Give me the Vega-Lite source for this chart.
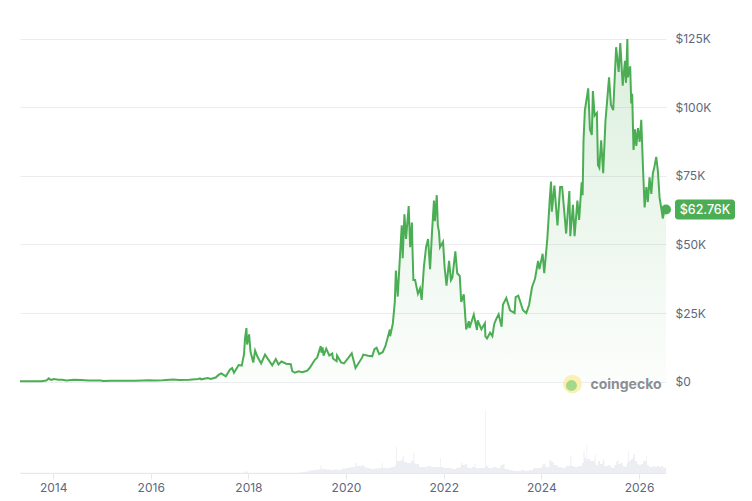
{
  "$schema": "https://vega.github.io/schema/vega-lite/v6.json",
  "width": 646,
  "height": 453,
  "autosize": {"type": "none"},
  "padding": {"left": 20, "top": 20, "right": 86, "bottom": 28},
  "background": "white",
  "config": {"view": {"stroke": null}, "font": "Inter"},
  "datasets": {
    "price": [
      {"d":"2013-04-28","p":135},{"d":"2013-06-20","p":105},{"d":"2013-08-20","p":110},{"d":"2013-10-05","p":125},
      {"d":"2013-11-10","p":330},{"d":"2013-11-30","p":1130},{"d":"2013-12-08","p":800},{"d":"2013-12-18","p":550},
      {"d":"2014-01-05","p":900},{"d":"2014-02-10","p":650},{"d":"2014-03-10","p":630},{"d":"2014-04-10","p":400},
      {"d":"2014-06-05","p":650},{"d":"2014-08-01","p":590},{"d":"2014-09-20","p":400},{"d":"2014-11-10","p":350},
      {"d":"2014-12-20","p":320},{"d":"2015-01-14","p":180},{"d":"2015-03-10","p":280},{"d":"2015-05-01","p":235},
      {"d":"2015-07-10","p":290},{"d":"2015-09-01","p":230},{"d":"2015-11-04","p":400},{"d":"2015-12-15","p":450},
      {"d":"2016-02-01","p":375},{"d":"2016-04-01","p":420},{"d":"2016-06-17","p":740},{"d":"2016-08-01","p":580},
      {"d":"2016-10-15","p":640},{"d":"2016-12-20","p":900},{"d":"2017-01-04","p":1120},{"d":"2017-01-12","p":800},
      {"d":"2017-03-03","p":1280},{"d":"2017-03-25","p":950},{"d":"2017-05-01","p":1450},{"d":"2017-05-25","p":2500},
      {"d":"2017-06-12","p":2950},{"d":"2017-07-16","p":1900},{"d":"2017-08-15","p":4300},{"d":"2017-09-01","p":4900},
      {"d":"2017-09-15","p":3200},{"d":"2017-10-20","p":6000},{"d":"2017-11-12","p":5800},{"d":"2017-11-29","p":10000},
      {"d":"2017-12-07","p":16000},{"d":"2017-12-17","p":19500},{"d":"2017-12-22","p":13500},{"d":"2018-01-06","p":17200},
      {"d":"2018-01-16","p":11000},{"d":"2018-02-06","p":6900},{"d":"2018-02-20","p":11300},{"d":"2018-03-10","p":9000},
      {"d":"2018-04-06","p":6600},{"d":"2018-05-05","p":9800},{"d":"2018-06-28","p":5900},{"d":"2018-07-25","p":8200},
      {"d":"2018-08-14","p":6200},{"d":"2018-09-05","p":7300},{"d":"2018-10-10","p":6500},{"d":"2018-11-14","p":6300},
      {"d":"2018-11-25","p":3800},{"d":"2018-12-15","p":3200},{"d":"2019-01-10","p":3700},{"d":"2019-02-07","p":3400},
      {"d":"2019-03-15","p":3900},{"d":"2019-04-05","p":5000},{"d":"2019-05-14","p":8000},{"d":"2019-05-30","p":8700},
      {"d":"2019-06-26","p":12900},{"d":"2019-07-02","p":10500},{"d":"2019-07-10","p":12500},{"d":"2019-07-17","p":9400},
      {"d":"2019-08-06","p":12000},{"d":"2019-08-29","p":9500},{"d":"2019-09-20","p":10200},{"d":"2019-09-25","p":8400},
      {"d":"2019-10-23","p":7400},{"d":"2019-10-26","p":9500},{"d":"2019-11-25","p":7000},{"d":"2019-12-17","p":6600},
      {"d":"2020-01-20","p":8700},{"d":"2020-02-13","p":10300},{"d":"2020-03-12","p":4900},{"d":"2020-04-30","p":8700},
      {"d":"2020-05-09","p":9800},{"d":"2020-06-15","p":9400},{"d":"2020-07-15","p":9200},{"d":"2020-08-01","p":11800},
      {"d":"2020-08-17","p":12300},{"d":"2020-09-05","p":10000},{"d":"2020-10-01","p":10700},{"d":"2020-10-21","p":12800},
      {"d":"2020-11-24","p":19000},{"d":"2020-11-26","p":16500},{"d":"2020-12-16","p":21000},{"d":"2020-12-31","p":29000},
      {"d":"2021-01-08","p":40500},{"d":"2021-01-22","p":31000},{"d":"2021-02-08","p":46000},{"d":"2021-02-21","p":57000},
      {"d":"2021-02-28","p":45000},{"d":"2021-03-13","p":61000},{"d":"2021-03-25","p":52000},{"d":"2021-04-14","p":64000},
      {"d":"2021-04-25","p":49000},{"d":"2021-05-08","p":58000},{"d":"2021-05-12","p":49000},{"d":"2021-05-19","p":37000},
      {"d":"2021-06-01","p":37000},{"d":"2021-06-22","p":32000},{"d":"2021-07-08","p":34000},{"d":"2021-07-20","p":29800},
      {"d":"2021-08-06","p":42000},{"d":"2021-08-22","p":49000},{"d":"2021-09-06","p":52000},{"d":"2021-09-21","p":41000},
      {"d":"2021-10-06","p":55000},{"d":"2021-10-20","p":66000},{"d":"2021-10-27","p":58500},{"d":"2021-11-10","p":68000},
      {"d":"2021-11-18","p":57000},{"d":"2021-11-27","p":54500},{"d":"2021-12-04","p":49000},{"d":"2021-12-27","p":51000},
      {"d":"2022-01-08","p":41500},{"d":"2022-01-22","p":35000},{"d":"2022-02-10","p":44000},{"d":"2022-02-24","p":37000},
      {"d":"2022-03-07","p":38000},{"d":"2022-03-29","p":47500},{"d":"2022-04-12","p":39500},{"d":"2022-05-01","p":38500},
      {"d":"2022-05-12","p":29000},{"d":"2022-05-31","p":31800},{"d":"2022-06-18","p":19000},{"d":"2022-07-08","p":22000},
      {"d":"2022-07-13","p":19500},{"d":"2022-08-14","p":24400},{"d":"2022-09-07","p":18800},{"d":"2022-09-12","p":22300},
      {"d":"2022-10-10","p":19100},{"d":"2022-11-05","p":21300},{"d":"2022-11-09","p":16500},{"d":"2022-11-21","p":15700},
      {"d":"2022-12-14","p":17800},{"d":"2022-12-31","p":16500},{"d":"2023-01-14","p":21000},{"d":"2023-01-31","p":23000},
      {"d":"2023-02-16","p":24500},{"d":"2023-03-10","p":20000},{"d":"2023-03-20","p":28000},{"d":"2023-04-14","p":30500},
      {"d":"2023-05-12","p":26000},{"d":"2023-06-15","p":25000},{"d":"2023-06-23","p":30800},{"d":"2023-07-13","p":31300},
      {"d":"2023-08-17","p":26000},{"d":"2023-09-11","p":25000},{"d":"2023-10-02","p":28000},{"d":"2023-10-24","p":34500},
      {"d":"2023-11-15","p":37500},{"d":"2023-12-08","p":44000},{"d":"2023-12-18","p":41000},{"d":"2024-01-11","p":46600},
      {"d":"2024-01-23","p":39500},{"d":"2024-02-15","p":52000},{"d":"2024-03-05","p":67000},{"d":"2024-03-14","p":73000},
      {"d":"2024-03-20","p":62000},{"d":"2024-04-08","p":71500},{"d":"2024-05-01","p":57000},{"d":"2024-05-21","p":71000},
      {"d":"2024-06-05","p":71000},{"d":"2024-07-05","p":54000},{"d":"2024-07-29","p":69500},{"d":"2024-08-05","p":53000},
      {"d":"2024-08-25","p":64500},{"d":"2024-09-06","p":53000},{"d":"2024-09-27","p":66000},{"d":"2024-10-10","p":59000},
      {"d":"2024-10-29","p":72700},{"d":"2024-11-05","p":68000},{"d":"2024-11-12","p":88000},{"d":"2024-11-22","p":99000},
      {"d":"2024-12-05","p":103000},{"d":"2024-12-17","p":107000},{"d":"2024-12-30","p":92000},{"d":"2025-01-13","p":90000},
      {"d":"2025-01-21","p":106000},{"d":"2025-02-03","p":97000},{"d":"2025-02-20","p":98000},{"d":"2025-02-28","p":79000},
      {"d":"2025-03-10","p":78000},{"d":"2025-03-24","p":88000},{"d":"2025-04-08","p":76000},{"d":"2025-04-25","p":95000},
      {"d":"2025-05-22","p":111000},{"d":"2025-06-05","p":101000},{"d":"2025-06-22","p":99000},{"d":"2025-07-14","p":122000},
      {"d":"2025-08-02","p":113000},{"d":"2025-08-14","p":123500},{"d":"2025-09-01","p":108000},{"d":"2025-09-18","p":117000},
      {"d":"2025-09-26","p":109000},{"d":"2025-10-06","p":125000},{"d":"2025-10-10","p":111000},{"d":"2025-10-27","p":115000},
      {"d":"2025-11-04","p":101500},{"d":"2025-11-11","p":105000},{"d":"2025-11-21","p":84500},{"d":"2025-12-02","p":92000},
      {"d":"2025-12-12","p":86000},{"d":"2025-12-24","p":92500},{"d":"2026-01-06","p":87500},{"d":"2026-01-18","p":95500},
      {"d":"2026-01-30","p":79000},{"d":"2026-02-12","p":63500},{"d":"2026-02-25","p":71000},{"d":"2026-03-08","p":65500},
      {"d":"2026-03-21","p":74500},{"d":"2026-04-03","p":68500},{"d":"2026-04-15","p":76000},{"d":"2026-04-27","p":78500},
      {"d":"2026-05-10","p":82000},{"d":"2026-05-22","p":77000},{"d":"2026-06-04","p":67000},{"d":"2026-06-16","p":63500},
      {"d":"2026-06-28","p":59500},{"d":"2026-07-10","p":62500},{"d":"2026-07-22","p":62760}
    ],
    "vol": [
      {"d":"2013-04-28","v":0.2},{"d":"2017-12-05","v":1.5},{"d":"2017-12-25","v":0.3},{"d":"2019-01-01","v":0.5},
      {"d":"2019-02-01","v":1},{"d":"2019-03-01","v":1.5},{"d":"2019-04-01","v":2.5},{"d":"2019-05-01","v":3},
      {"d":"2019-06-01","v":3.5},{"d":"2019-06-24","v":8},{"d":"2019-07-01","v":4},{"d":"2019-08-01","v":3.5},
      {"d":"2019-09-01","v":3},{"d":"2019-10-01","v":3.5},{"d":"2019-11-01","v":3},{"d":"2019-12-01","v":4.5},
      {"d":"2020-01-01","v":5},{"d":"2020-02-01","v":6},{"d":"2020-03-10","v":10},{"d":"2020-03-20","v":7},
      {"d":"2020-04-01","v":7},{"d":"2020-05-01","v":8},{"d":"2020-05-16","v":6},{"d":"2020-06-01","v":5},
      {"d":"2020-07-01","v":4},{"d":"2020-08-01","v":4.5},{"d":"2020-09-01","v":5},{"d":"2020-09-25","v":10},
      {"d":"2020-10-01","v":5},{"d":"2020-11-01","v":5},{"d":"2020-12-01","v":6},{"d":"2021-01-01","v":8},
      {"d":"2021-01-10","v":26},{"d":"2021-01-16","v":12},{"d":"2021-02-01","v":12},{"d":"2021-02-20","v":14},
      {"d":"2021-03-01","v":17},{"d":"2021-03-08","v":11},{"d":"2021-04-01","v":10},{"d":"2021-05-01","v":12},
      {"d":"2021-05-19","v":20},{"d":"2021-05-26","v":10},{"d":"2021-06-01","v":9},{"d":"2021-07-01","v":6},
      {"d":"2021-08-01","v":6},{"d":"2021-09-01","v":7},{"d":"2021-10-01","v":6},{"d":"2021-11-01","v":6},
      {"d":"2021-12-04","v":15},{"d":"2021-12-10","v":6},{"d":"2022-01-01","v":5},{"d":"2022-02-01","v":5},
      {"d":"2022-03-01","v":4},{"d":"2022-04-01","v":5},{"d":"2022-05-01","v":6},{"d":"2022-05-10","v":10},
      {"d":"2022-05-20","v":8},{"d":"2022-06-12","v":9},{"d":"2022-06-25","v":6},{"d":"2022-07-01","v":5},
      {"d":"2022-08-01","v":6},{"d":"2022-08-20","v":9},{"d":"2022-08-28","v":5},{"d":"2022-09-01","v":5},
      {"d":"2022-10-01","v":5},{"d":"2022-11-01","v":6},{"d":"2022-11-08","v":63},{"d":"2022-11-13","v":7},
      {"d":"2022-12-01","v":5},{"d":"2023-01-01","v":6},{"d":"2023-02-01","v":5},{"d":"2023-03-01","v":8},
      {"d":"2023-03-20","v":9},{"d":"2023-04-01","v":4},{"d":"2023-05-01","v":3},{"d":"2023-06-01","v":2},
      {"d":"2023-07-01","v":2},{"d":"2023-08-01","v":3},{"d":"2023-09-01","v":2},{"d":"2023-10-01","v":3},
      {"d":"2023-11-01","v":5},{"d":"2023-12-01","v":5},{"d":"2024-01-01","v":6},{"d":"2024-01-11","v":9},
      {"d":"2024-02-01","v":6},{"d":"2024-03-01","v":13},{"d":"2024-03-15","v":11},{"d":"2024-04-01","v":8},
      {"d":"2024-05-01","v":6},{"d":"2024-06-01","v":5},{"d":"2024-07-01","v":7},{"d":"2024-08-01","v":8},
      {"d":"2024-08-05","v":17},{"d":"2024-08-12","v":7},{"d":"2024-09-01","v":6},{"d":"2024-10-01","v":7},
      {"d":"2024-11-01","v":10},{"d":"2024-11-12","v":22},{"d":"2024-11-20","v":15},{"d":"2024-12-01","v":12},
      {"d":"2024-12-05","v":28},{"d":"2024-12-10","v":14},{"d":"2025-01-01","v":12},{"d":"2025-02-01","v":10},
      {"d":"2025-02-03","v":18},{"d":"2025-02-10","v":8},{"d":"2025-03-01","v":12},{"d":"2025-03-16","v":9},
      {"d":"2025-04-01","v":10},{"d":"2025-04-07","v":13},{"d":"2025-04-16","v":7},{"d":"2025-05-01","v":7},
      {"d":"2025-05-16","v":8},{"d":"2025-06-01","v":6},{"d":"2025-06-16","v":5},{"d":"2025-07-01","v":8},
      {"d":"2025-07-16","v":12},{"d":"2025-08-01","v":9},{"d":"2025-08-16","v":10},{"d":"2025-09-01","v":7},
      {"d":"2025-09-16","v":6},{"d":"2025-10-01","v":10},{"d":"2025-10-10","v":22},{"d":"2025-10-16","v":12},
      {"d":"2025-11-01","v":14},{"d":"2025-11-16","v":16},{"d":"2025-11-21","v":19},{"d":"2025-12-01","v":12},
      {"d":"2025-12-16","v":9},{"d":"2026-01-01","v":8},{"d":"2026-01-16","v":9},{"d":"2026-02-01","v":12},
      {"d":"2026-02-24","v":17},{"d":"2026-03-01","v":8},{"d":"2026-03-16","v":6},{"d":"2026-04-01","v":6},
      {"d":"2026-04-16","v":7},{"d":"2026-05-01","v":6},{"d":"2026-05-16","v":7},{"d":"2026-06-01","v":6},
      {"d":"2026-06-16","v":7},{"d":"2026-07-01","v":5},{"d":"2026-07-16","v":6},{"d":"2026-07-22","v":6}
    ],
    "brand": [
      {"d": "2024-08-21", "p": 0, "part": "logo"},
      {"d": "2026-06-19", "p": 0, "part": "name"}
    ]
  },
  "encoding": {
    "x": {
      "field": "d",
      "type": "temporal",
      "scale": {
        "type": "utc",
        "domain": [{"year": 2013, "month": 4, "date": 28, "utc": true}, {"year": 2026, "month": 7, "date": 22, "utc": true}]
      },
      "axis": {
        "values": [
          {"year": 2014, "utc": true}, {"year": 2016, "utc": true}, {"year": 2018, "utc": true},
          {"year": 2020, "utc": true}, {"year": 2022, "utc": true}, {"year": 2024, "utc": true}, {"year": 2026, "utc": true}
        ],
        "format": "%Y",
        "title": null,
        "grid": false,
        "domainColor": "#e6e8ee",
        "tickColor": "#e6e8ee",
        "tickSize": 6,
        "labelColor": "#5d6880",
        "labelFontSize": 12,
        "labelPadding": 3,
        "labelFlush": false
      }
    }
  },
  "layer": [
    {
      "data": {"name": "vol"},
      "mark": {"type": "area", "interpolate": "step-after", "color": "#eceef3"},
      "encoding": {
        "y": {"field": "v", "type": "quantitative", "scale": {"domain": [0, 63], "range": [453, 390], "nice": false, "zero": true}, "axis": null}
      }
    },
    {
      "layer": [
        {
          "data": {"name": "price"},
          "mark": {
            "type": "area",
            "color": {
              "gradient": "linear", "x1": 1, "y1": 1, "x2": 1, "y2": 0,
              "stops": [
                {"offset": 0, "color": "rgba(76,174,84,0.02)"},
                {"offset": 1, "color": "rgba(76,174,84,0.2)"}
              ]
            }
          },
          "encoding": {
            "y": {
              "field": "p", "type": "quantitative",
              "scale": {"domain": [-33394, 131934], "nice": false, "zero": false},
              "axis": {
                "orient": "right",
                "values": [0, 25000, 50000, 75000, 100000, 125000],
                "labelExpr": "datum.value == 0 ? '$0' : '$' + (datum.value / 1000) + 'K'",
                "grid": true,
                "gridColor": "#ececf0",
                "domain": false,
                "ticks": false,
                "tickSize": 0,
                "labelPadding": 9,
                "labelColor": "#5d6880",
                "labelFontSize": 12,
                "title": null
              }
            },
            "y2": {"datum": 0}
          }
        },
        {
          "data": {"name": "price"},
          "mark": {"type": "line", "color": "#4cae54", "strokeWidth": 2},
          "encoding": {"y": {"field": "p", "type": "quantitative"}}
        },
        {
          "data": {"name": "price"},
          "transform": [{"filter": "datum.p == 62760"}],
          "mark": {"type": "circle", "size": 100, "color": "#4cae54", "opacity": 1},
          "encoding": {"y": {"field": "p", "type": "quantitative"}}
        },
        {
          "data": {"name": "price"},
          "transform": [{"filter": "datum.p == 62760"}],
          "mark": {"type": "rect", "color": "#4cae54", "cornerRadius": 3, "xOffset": 9, "x2Offset": 69, "yOffset": -10, "y2Offset": 10},
          "encoding": {
            "x2": {"field": "d"},
            "y": {"field": "p", "type": "quantitative"},
            "y2": {"field": "p"}
          }
        },
        {
          "data": {"name": "price"},
          "transform": [{"filter": "datum.p == 62760"}],
          "mark": {"type": "text", "text": "$62.76K", "color": "white", "fontSize": 12.5, "fontWeight": 500, "align": "center", "baseline": "middle", "dx": 39, "dy": 0.5},
          "encoding": {"y": {"field": "p", "type": "quantitative"}}
        },
        {
          "data": {"name": "brand"},
          "transform": [{"filter": "datum.part == 'logo'"}],
          "mark": {"type": "circle", "size": 350, "color": "#fbefb4", "opacity": 1, "yOffset": 2.5},
          "encoding": {"y": {"field": "p", "type": "quantitative"}}
        },
        {
          "data": {"name": "brand"},
          "transform": [{"filter": "datum.part == 'logo'"}],
          "mark": {"type": "circle", "size": 120, "color": "#a3d98a", "opacity": 1, "yOffset": 4, "xOffset": -1},
          "encoding": {"y": {"field": "p", "type": "quantitative"}}
        },
        {
          "data": {"name": "brand"},
          "transform": [{"filter": "datum.part == 'name'"}],
          "mark": {"type": "text", "text": "coingecko", "align": "right", "baseline": "middle", "fontSize": 14, "fontWeight": 700, "color": "#8c8f95", "dy": 3},
          "encoding": {"y": {"field": "p", "type": "quantitative"}}
        }
      ]
    }
  ],
  "resolve": {"scale": {"y": "independent"}, "axis": {"y": "independent"}}
}
